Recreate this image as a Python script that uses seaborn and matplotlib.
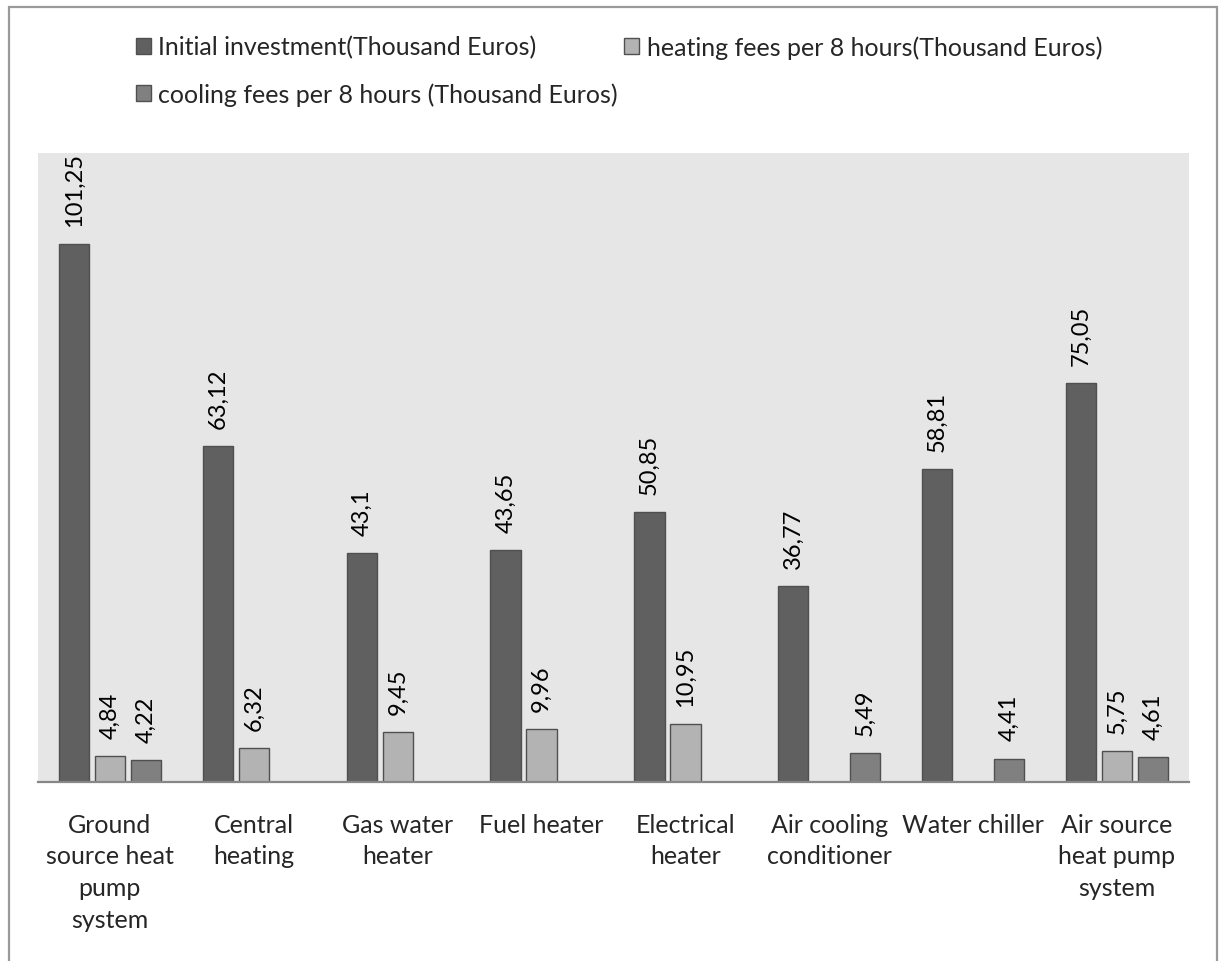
import numpy as np
import pandas as pd
import matplotlib
matplotlib.use("Agg")
import matplotlib.pyplot as plt
from matplotlib.patches import Rectangle
import seaborn as sns

categories = [
    "Ground\nsource heat\npump\nsystem",
    "Central\nheating",
    "Gas water\nheater",
    "Fuel heater",
    "Electrical\nheater",
    "Air cooling\nconditioner",
    "Water chiller",
    "Air source\nheat pump\nsystem",
]
series_names = [
    "Initial investment(Thousand Euros)",
    "heating fees per 8 hours(Thousand Euros)",
    "cooling fees per 8 hours (Thousand Euros)",
]
initial_investment = [101.25, 63.12, 43.1, 43.65, 50.85, 36.77, 58.81, 75.05]
heating_fees = [4.84, 6.32, 9.45, 9.96, 10.95, np.nan, np.nan, 5.75]
cooling_fees = [4.22, np.nan, np.nan, np.nan, np.nan, 5.49, 4.41, 4.61]
colors = ["#606060", "#b3b3b3", "#808080"]

rows = []
for name, vals in zip(series_names, [initial_investment, heating_fees, cooling_fees]):
    for c, v in zip(categories, vals):
        if not np.isnan(v):
            rows.append({"category": c, "series": name, "value": v})
df = pd.DataFrame(rows)

sns.set_style("white")
plt.rcParams["font.family"] = ["Lato", "DejaVu Sans"]

W, H = 1222, 962
fig = plt.figure(figsize=(W / 100, H / 100), dpi=100)
ax = fig.add_axes([38 / W, 1 - 783 / H, (1189 - 38) / W, (783 - 154) / H])
ax.set_facecolor("#e6e6e6")

sns.barplot(data=df, x="category", y="value", hue="series",
            order=categories, hue_order=series_names, palette=colors,
            width=0.75, gap=0.16, edgecolor="#505050", linewidth=1.0,
            saturation=1, errorbar=None, ax=ax, legend=True)

for cont in ax.containers:
    labels = [f"{b.get_height():g}".replace(".", ",") for b in cont]
    ax.bar_label(cont, labels=labels, rotation=90, padding=13, fontsize=17, color="black")

ax.set_ylim(0, 118.3)
ax.set_xlim(-0.5, len(categories) - 0.5)
ax.set_xlabel("")
ax.set_ylabel("")
ax.set_yticks([])
for s in ["top", "left", "right"]:
    ax.spines[s].set_visible(False)
ax.spines["bottom"].set_color("#878787")
ax.spines["bottom"].set_linewidth(1.6)
ax.tick_params(axis="x", length=0, pad=22, labelsize=18)
for t in ax.get_xticklabels():
    t.set_linespacing(1.47)
    t.set_horizontalalignment("center")

handles, labs = ax.get_legend_handles_labels()
ax.get_legend().remove()
order = [0, 2, 1]
fig.legend([handles[i] for i in order], [labs[i] for i in order],
           loc="upper left", bbox_to_anchor=(136 / W, 1 - 36 / H),
           ncol=2, frameon=False, fontsize=18, handlelength=0.6, handleheight=0.64,
           handletextpad=0.3, columnspacing=0.25, labelspacing=0.95,
           borderpad=0, borderaxespad=0)

fig.patches.append(Rectangle((9 / W, -0.05), (1217 - 9) / W, 1.05 - 7.5 / H,
                             transform=fig.transFigure, fill=False,
                             edgecolor="#9a9a9a", linewidth=1.6, clip_on=False))

fig.savefig("out.png", dpi=100)
